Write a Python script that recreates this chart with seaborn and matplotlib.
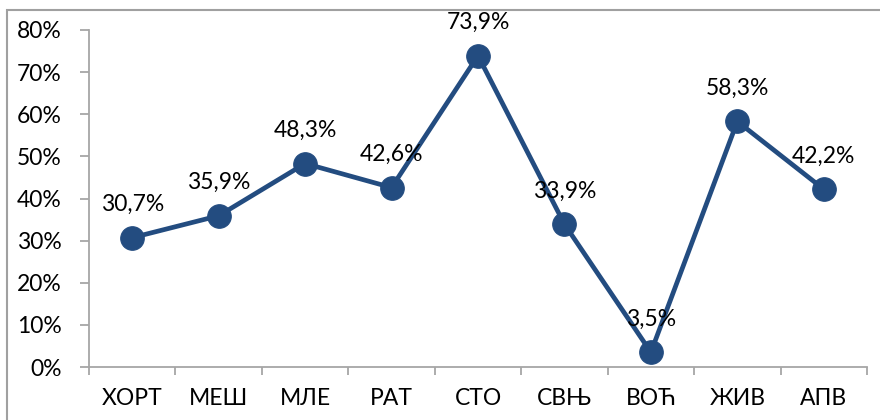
import matplotlib
matplotlib.use("Agg")
import matplotlib.pyplot as plt
import seaborn as sns
import pandas as pd
from matplotlib.patches import Rectangle
from matplotlib.ticker import FixedLocator, MultipleLocator, FuncFormatter

categories = ["ХОРТ", "МЕШ", "МЛЕ", "РАТ", "СТО", "СВЊ", "ВОЋ", "ЖИВ", "АПВ"]
values = [30.7, 35.9, 48.3, 42.6, 73.9, 33.9, 3.5, 58.3, 42.2]

sns.set_theme(style="white")
plt.rcParams['font.family'] = ['Lato', 'DejaVu Sans']

df = pd.DataFrame({"cat": categories, "val": values})
df["pos"] = range(len(categories))

fig = plt.figure(figsize=(8.8, 4.2), dpi=100)
ax = fig.add_axes([89/880, 1-367/420, (867-89)/880, (367-30)/420])

color = "#234C80"
sns.lineplot(data=df, x="pos", y="val", ax=ax, color=color, linewidth=3.4,
             marker="o", markersize=17, markeredgecolor=color, markerfacecolor=color)

fs = 16.5
for p, v in zip(df["pos"], df["val"]):
    ax.annotate(f"{v:.1f}%".replace(".", ","), (p, v), xytext=(0, 24),
                textcoords="offset points", ha="center", va="center",
                fontsize=fs, color="black")

ax.set_xlim(-0.5, len(categories) - 0.5)
ax.set_ylim(0, 80)
ax.yaxis.set_major_locator(MultipleLocator(10))
ax.yaxis.set_major_formatter(FuncFormatter(lambda y, _: f"{y:.0f}%"))
ax.set_xticks(range(len(categories)))
ax.set_xticklabels(categories)
ax.xaxis.set_minor_locator(FixedLocator([i - 0.5 for i in range(len(categories) + 1)]))
ax.set_xlabel("")
ax.set_ylabel("")

spine_c = "#A6A6A6"
for s in ["top", "right"]:
    ax.spines[s].set_visible(False)
for s in ["left", "bottom"]:
    ax.spines[s].set_color(spine_c)
    ax.spines[s].set_linewidth(1.3)

ax.tick_params(axis="y", which="major", length=6.5, width=1.3, color=spine_c,
               direction="out", left=True, pad=13, labelsize=fs, labelcolor="black")
ax.tick_params(axis="x", which="major", length=0, pad=15, labelsize=fs, labelcolor="black")
ax.tick_params(axis="x", which="minor", length=5.5, width=1.3, color=spine_c,
               direction="out", bottom=True)

border = Rectangle((7/880, -0.2), 1.2, 1 - 10/420 + 0.2, transform=fig.transFigure,
                   fill=False, edgecolor="#A0A0A0", linewidth=1.5, clip_on=False)
fig.patches.append(border)

fig.savefig("out.png", dpi=100)
